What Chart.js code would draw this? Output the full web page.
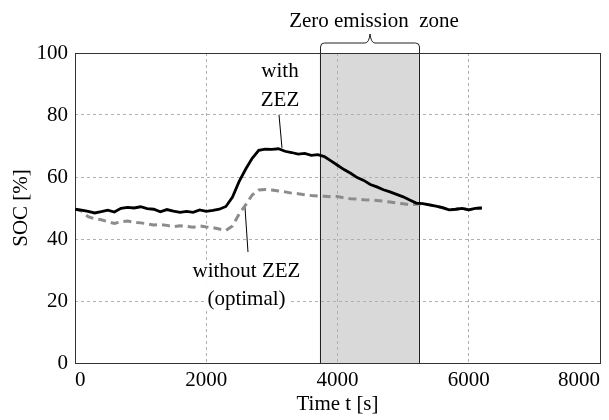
<!DOCTYPE html>
<html>
<head>
<meta charset="utf-8">
<script src="https://cdn.jsdelivr.net/npm/chart.js@4.4.0/dist/chart.umd.min.js"></script>
<style>
  html, body { margin: 0; padding: 0; background: #fff; }
</style>
</head>
<body>
<canvas id="soc-chart" width="609" height="420"></canvas>
<script>
// sample times [s]
const timeS = [
  0, 100, 200, 300, 400, 500, 600, 700, 800, 900,
  1000, 1100, 1200, 1300, 1400, 1500, 1600, 1700, 1800, 1900,
  2000, 2100, 2200, 2300, 2400, 2500, 2600, 2700, 2800, 2900,
  3000, 3100, 3200, 3300, 3400, 3500, 3600, 3700, 3800, 3900,
  4000, 4100, 4200, 4300, 4400, 4500, 4600, 4700, 4800, 4900,
  5000, 5100, 5200, 5300, 5400, 5500, 5600, 5700, 5800, 5900,
  6000, 6100, 6200
];
// SOC [%] with zero emission zone
const socWithZez = [
  49.6, 49.3, 48.9, 48.4, 48.8, 49.3, 48.7, 49.9, 50.2, 50.0,
  50.4, 49.8, 49.6, 48.8, 49.5, 49.0, 48.6, 48.9, 48.6, 49.4,
  48.9, 49.2, 49.6, 50.5, 53.5, 58.5, 62.5, 66.0, 68.6, 69.0,
  68.9, 69.1, 68.3, 67.9, 67.4, 67.6, 67.0, 67.2, 66.6, 65.2,
  63.8, 62.4, 61.2, 59.8, 58.9, 57.6, 56.8, 55.9, 55.2, 54.4,
  53.6, 52.6, 51.6, 51.4, 51.0, 50.6, 50.1, 49.4, 49.6, 49.9,
  49.4, 49.9, 50.0
];
// SOC [%] without zero emission zone (optimal)
const socWithoutZez = [
  49.7, 49.0, 47.2, 46.5, 46.2, 45.6, 45.0, 45.6, 45.8, 45.4,
  45.2, 44.9, 44.5, 44.7, 44.4, 44.0, 44.3, 44.1, 43.8, 44.2,
  43.9, 43.7, 43.2, 42.8, 44.2, 48.0, 51.0, 54.2, 55.8, 56.0,
  55.8, 55.5, 55.2, 54.8, 54.6, 54.3, 54.0, 53.9, 53.8, 53.6,
  53.7, 53.3, 53.0, 52.9, 52.7, 52.6, 52.4, 52.2, 51.9, 51.6,
  51.4, 51.0, 51.2, 51.4, 51.0, 50.6, 50.1, 49.4, 49.6, 49.9,
  49.4, 49.9, 50.0
];
const xTicks = [0, 2000, 4000, 6000, 8000];
const yTicks = [0, 20, 40, 60, 80, 100];
const zoneStart = 3730;
const zoneEnd = 5240;

const serif = "'Liberation Serif', 'DejaVu Serif', serif";
const fontSize = 21;

function toPoints(xs, ys) {
  return xs.map((t, i) => ({ x: t, y: ys[i] }));
}

function label(ctx, text, x, y) {
  // white box behind the text so grid lines do not run through it
  const w = ctx.measureText(text).width;
  ctx.fillStyle = '#fff';
  ctx.fillRect(x - w / 2 - 3, y - 12, w + 6, 24);
  ctx.fillStyle = '#000';
  ctx.fillText(text, x, y);
}

const zonePlugin = {
  id: 'zezZone',
  beforeDraw(chart) {
    const { ctx, chartArea: a, scales: { x } } = chart;
    const x0 = x.getPixelForValue(zoneStart);
    const x1 = x.getPixelForValue(zoneEnd);
    ctx.save();
    ctx.fillStyle = '#d9d9d9';
    ctx.fillRect(x0, a.top, x1 - x0, a.bottom - a.top);
    ctx.restore();
  },
  beforeDatasetsDraw(chart) {
    const { ctx, chartArea: a, scales: { x, y } } = chart;
    ctx.save();
    ctx.font = fontSize + 'px ' + serif;
    ctx.textAlign = 'center';
    ctx.textBaseline = 'middle';

    // text labels
    label(ctx, 'with', x.getPixelForValue(3124), y.getPixelForValue(93.9));
    label(ctx, 'ZEZ', x.getPixelForValue(3124), y.getPixelForValue(84.8));
    label(ctx, 'without ZEZ', x.getPixelForValue(2613), y.getPixelForValue(29.4));
    label(ctx, '(optimal)', x.getPixelForValue(2613), y.getPixelForValue(20.6));

    // pointer lines
    ctx.strokeStyle = '#000';
    ctx.lineWidth = 1;
    ctx.beginPath();
    ctx.moveTo(x.getPixelForValue(3109), y.getPixelForValue(80));
    ctx.lineTo(x.getPixelForValue(3154), y.getPixelForValue(69.4));
    ctx.moveTo(x.getPixelForValue(2636), y.getPixelForValue(35.8));
    ctx.lineTo(x.getPixelForValue(2590), y.getPixelForValue(50.3));
    ctx.stroke();

    // zone edges and brace
    const x0 = Math.round(x.getPixelForValue(zoneStart)) + 0.5;
    const x1 = Math.round(x.getPixelForValue(zoneEnd)) + 0.5;
    const xm = (x0 + x1) / 2;
    const top = a.top;
    const hy = top - 10;
    const py = top - 19;
    const r = 4;
    ctx.strokeStyle = '#222';
    ctx.beginPath();
    ctx.moveTo(x0, a.bottom);
    ctx.lineTo(x0, hy + r);
    ctx.quadraticCurveTo(x0, hy, x0 + r, hy);
    ctx.lineTo(xm - 5, hy);
    ctx.quadraticCurveTo(xm - 1, hy, xm, py);
    ctx.quadraticCurveTo(xm + 1, hy, xm + 5, hy);
    ctx.lineTo(x1 - r, hy);
    ctx.quadraticCurveTo(x1, hy, x1, hy + r);
    ctx.lineTo(x1, a.bottom);
    ctx.stroke();

    ctx.textBaseline = 'alphabetic';
    ctx.fillText('Zero emission  zone', xm + 4, 27);

    // plot frame
    ctx.strokeStyle = '#333';
    ctx.strokeRect(Math.round(a.left) + 0.5, Math.round(a.top) + 0.5,
      Math.round(a.right - a.left), Math.round(a.bottom - a.top));
    ctx.restore();
  }
};

const gridStyle = {
  color: '#b0b0b0',
  lineWidth: 1,
  drawTicks: false
};

new Chart(document.getElementById('soc-chart'), {
  type: 'line',
  data: {
    datasets: [
      {
        label: 'with ZEZ',
        data: toPoints(timeS, socWithZez),
        borderColor: '#000',
        borderWidth: 2.8,
        pointRadius: 0,
        tension: 0,
        order: 1
      },
      {
        label: 'without ZEZ (optimal)',
        data: toPoints(timeS, socWithoutZez),
        borderColor: '#8c8c8c',
        borderWidth: 3,
        borderDash: [8, 5],
        pointRadius: 0,
        tension: 0,
        order: 2
      }
    ]
  },
  options: {
    responsive: false,
    animation: false,
    layout: { padding: { left: 0, right: 9, top: 53, bottom: 0 } },
    plugins: {
      legend: { display: false },
      tooltip: { enabled: false }
    },
    scales: {
      x: {
        type: 'linear',
        min: 0,
        max: 8000,
        afterBuildTicks: (s) => { s.ticks = xTicks.map(v => ({ value: v })); },
        afterFit: (s) => { s.height = 57; },
        grid: gridStyle,
        border: { display: false, dash: [3, 3] },
        ticks: {
          padding: 5,
          align: 'inner',
          color: '#000',
          maxRotation: 0,
          callback: (v) => String(v),
          font: { family: serif, size: fontSize }
        },
        title: {
          display: true,
          text: 'Time t [s]',
          color: '#000',
          padding: { top: 0, bottom: 3 },
          font: { family: serif, size: fontSize }
        }
      },
      y: {
        min: 0,
        max: 100,
        afterBuildTicks: (s) => { s.ticks = yTicks.map(v => ({ value: v })); },
        afterFit: (s) => { s.width = 75; },
        grid: gridStyle,
        border: { display: false, dash: [3, 3] },
        ticks: {
          padding: 7,
          color: '#000',
          callback: (v) => String(v),
          font: { family: serif, size: fontSize }
        },
        title: {
          display: true,
          text: 'SOC [%]',
          color: '#000',
          padding: { top: 9, bottom: 0 },
          font: { family: serif, size: fontSize }
        }
      }
    }
  },
  plugins: [zonePlugin]
});
</script>
</body>
</html>
